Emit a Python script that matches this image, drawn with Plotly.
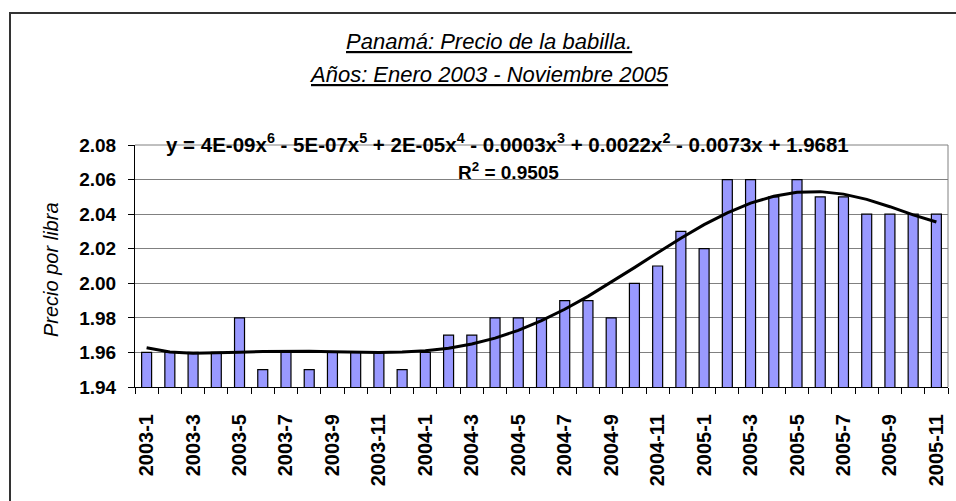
import numpy as np
import plotly.graph_objects as go

# ---- data ----
months = ["2003-1", "2003-2", "2003-3", "2003-4", "2003-5", "2003-6", "2003-7", "2003-8",
          "2003-9", "2003-10", "2003-11", "2003-12",
          "2004-1", "2004-2", "2004-3", "2004-4", "2004-5", "2004-6", "2004-7", "2004-8",
          "2004-9", "2004-10", "2004-11", "2004-12",
          "2005-1", "2005-2", "2005-3", "2005-4", "2005-5", "2005-6", "2005-7", "2005-8",
          "2005-9", "2005-10", "2005-11"]
precio = [1.96, 1.96, 1.96, 1.96, 1.98, 1.95, 1.96, 1.95, 1.96, 1.96, 1.96, 1.95,
          1.96, 1.97, 1.97, 1.98, 1.98, 1.98, 1.99, 1.99, 1.98, 2.00, 2.01, 2.03,
          2.02, 2.06, 2.06, 2.05, 2.06, 2.05, 2.05, 2.04, 2.04, 2.04, 2.04]
labelled_months = months[::2]
title_1 = "Panamá: Precio de la babilla."
title_2 = "Años: Enero 2003 - Noviembre 2005"
y_title = "Precio por libra"
equation = ("y = 4E-09x<sup>6</sup> - 5E-07x<sup>5</sup> + 2E-05x<sup>4</sup> - 0.0003x<sup>3</sup>"
            " + 0.0022x<sup>2</sup> - 0.0073x + 1.9681")
r2_text = "R<sup>2</sup> = 0.9505"

# polynomial (order 6) trendline fitted to the data, as in the original chart
xi = np.arange(1, len(precio) + 1)
coef = np.polyfit(xi, np.array(precio), 6)
trend = np.polyval(coef, xi)

FONT = "Liberation Sans, Arial, sans-serif"

fig = go.Figure()
fig.add_trace(go.Bar(x=months, y=precio, xaxis="x", yaxis="y",
                     marker=dict(color="#9999FF", line=dict(color="black", width=1.2)),
                     showlegend=False))
fig.add_trace(go.Scatter(x=months, y=trend, xaxis="x2", yaxis="y", mode="lines",
                         line=dict(color="black", width=3), showlegend=False))

# page geometry (body margin is removed below, so the figure fills the window)
W, H = 956, 501
L, R, T, B = 135, 948, 145, 387
pw, ph = R - L, B - T


def px(x):
    return (x - L) / pw


def py(y):
    return (B - y) / ph


xrange_ = [-0.5, len(months) - 0.5]

fig.update_layout(
    width=W, height=H,
    margin=dict(l=L, r=W - R, t=T, b=H - B, pad=0),
    paper_bgcolor="white", plot_bgcolor="white",
    bargap=0.57,
    font=dict(family=FONT, color="black"),
    xaxis=dict(type="category", range=xrange_, showline=True, linecolor="black",
               linewidth=1, ticks="outside", ticklen=6, tickcolor="rgba(0,0,0,0)",
               tickmode="array", tickvals=labelled_months, ticktext=labelled_months, tickangle=-90,
               tickfont=dict(family=FONT, size=20, weight="bold"), showgrid=False,
               ticklabelstandoff=12),
    xaxis2=dict(type="category", range=xrange_, overlaying="x", anchor="y", side="bottom",
                showline=False, ticks="outside", ticklen=6, tickcolor="black", tickson="boundaries",
                showticklabels=False, showgrid=False),
    yaxis=dict(range=[1.94, 2.08], dtick=0.02, tickformat=".2f", showline=True, linecolor="black",
               linewidth=1, ticks="outside", ticklen=6, tickcolor="black", showgrid=True,
               gridcolor="#808080", gridwidth=1, zeroline=False,
               tickfont=dict(family=FONT, size=19, weight="bold"), ticklabelstandoff=8),
    shapes=[
        dict(type="line", xref="paper", yref="paper", x0=1, x1=1, y0=0, y1=1,
             line=dict(color="#808080", width=1)),
        dict(type="line", xref="paper", yref="paper", x0=0, x1=1, y0=1, y1=1,
             line=dict(color="#808080", width=1)),
        # outer chart frame (only its top and left edges fall inside the picture)
        dict(type="line", xref="paper", yref="paper", x0=px(9), x1=px(1000), y0=py(13), y1=py(13),
             line=dict(color="#333333", width=2)),
        dict(type="line", xref="paper", yref="paper", x0=px(10), x1=px(10), y0=py(12), y1=py(600),
             line=dict(color="#333333", width=2)),
    ],
    annotations=[
        dict(text=title_1, xref="paper", yref="paper", x=px(489), y=py(41), showarrow=False,
             xanchor="center", yanchor="middle",
             font=dict(family=FONT, size=22, style="italic", lineposition="under")),
        dict(text=title_2, xref="paper", yref="paper", x=px(489), y=py(74), showarrow=False,
             xanchor="center", yanchor="middle",
             font=dict(family=FONT, size=22, style="italic", lineposition="under")),
        dict(text=y_title, xref="paper", yref="paper", x=px(51), y=py(270), showarrow=False,
             textangle=-90, xanchor="center", yanchor="middle",
             font=dict(family=FONT, size=20, style="italic")),
        dict(text=equation, xref="paper", yref="paper", x=px(507), y=py(143), showarrow=False,
             xanchor="center", yanchor="middle",
             font=dict(family=FONT, size=20.5, weight="bold")),
        dict(text=r2_text, xref="paper", yref="paper", x=px(508), y=py(171), showarrow=False,
             xanchor="center", yanchor="middle",
             font=dict(family=FONT, size=19, weight="bold")),
    ],
)

fig.write_html(
    "out.html",
    config={"displayModeBar": False},
    post_script="document.body.style.margin='0';document.documentElement.style.overflow='hidden';",
)
